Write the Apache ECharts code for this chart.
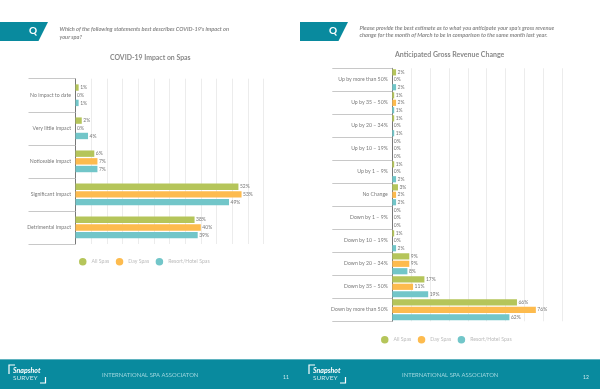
<!DOCTYPE html>
<html>
<head>
<meta charset="utf-8">
<title>Snapshot Survey</title>
<script src="https://cdn.jsdelivr.net/npm/echarts@6/dist/echarts.min.js"></script>
<style>
  html, body { margin: 0; padding: 0; background: #fff; }
  #chart { width: 600px; height: 389px; }
</style>
</head>
<body>
<div id="chart"></div>
<script>
// Datos
const impactCategories = ['No impact to date', 'Very little impact', 'Noticeable impact', 'Significant impact', 'Detrimental impact'];
const impactAll = [1, 2, 6, 52, 38];
const impactDay = [0, 0, 7, 53, 40];
const impactResort = [1, 4, 7, 49, 39];

const revenueCategories = ['Up by more than 50%', 'Up by 35 – 50%', 'Up by 20 – 34%', 'Up by 10 – 19%', 'Up by 1 – 9%', 'No Change',
  'Down by 1 – 9%', 'Down by 10 – 19%', 'Down by 20 – 34%', 'Down by 35 – 50%', 'Down by more than 50%'];
const revenueAll = [2, 1, 1, 0, 1, 3, 0, 1, 9, 17, 66];
const revenueDay = [0, 2, 0, 0, 0, 2, 0, 0, 9, 11, 76];
const revenueResort = [2, 1, 1, 0, 2, 2, 0, 2, 8, 19, 62];

const seriesNames = ['All Spas', 'Day Spas', 'Resort/Hotel Spas'];
const colors = ['#b5c55a', '#fdbb4e', '#72c6c9'];
const teal = '#098a9e';
const font = 'Lato';

function barSeries(name, data, color, axisIndex, barWidth) {
  return {
    name, type: 'bar', data, xAxisIndex: axisIndex, yAxisIndex: axisIndex,
    barWidth, barGap: '20%', itemStyle: { color },
    label: { show: true, position: 'right', distance: 1.5, formatter: '{c}%', fontSize: 5, fontFamily: font, color: '#777' }
  };
}

function valueAxis(gridIndex, max, interval) {
  return {
    type: 'value', gridIndex, min: 0, max, interval,
    axisLabel: { show: false }, axisLine: { show: false }, axisTick: { show: false },
    splitLine: { lineStyle: { color: '#ececec', width: 1 } }
  };
}

function catAxis(gridIndex, data, tickLength) {
  return {
    type: 'category', gridIndex, data, inverse: true,
    axisLine: { show: true, lineStyle: { color: '#777', width: 1 } },
    axisTick: { show: true, alignWithLabel: false, length: tickLength, lineStyle: { color: '#c8c8c8', width: 1 } },
    axisLabel: { interval: 0, fontSize: 5.2, fontFamily: font, color: '#7a7a7a', margin: 4.5 }
  };
}

function legend(left, top) {
  return {
    left, top, data: seriesNames, icon: 'circle', itemWidth: 7.5, itemHeight: 7.5, itemGap: 6.5,
    selectedMode: false, padding: 0,
    textStyle: { fontSize: 5.2, fontFamily: font, color: '#bcbcbc' }
  };
}

// Banda con la Q, la pregunta y el pie de pagina
function pageDecor(x, question, questionTop, pageNumber) {
  return [
    { type: 'polygon', shape: { points: [[x, 22], [x + 48, 22], [x + 38.5, 41], [x, 41]] }, style: { fill: teal } },
    { type: 'text', x: x + 33, y: 31, style: { text: 'Q', fill: '#fff', font: 'bold 10px Lato', align: 'center', verticalAlign: 'middle' } },
    { type: 'text', x: x + 59.5, y: questionTop, style: { text: question, fill: '#8a8a8a', font: 'italic bold 5.6px Lato', lineHeight: 7.2 } },
    { type: 'polyline', shape: { points: [[x + 9, 374], [x + 9, 365], [x + 15, 365]] }, style: { stroke: '#fff', fill: null, lineWidth: 1.2 } },
    { type: 'polyline', shape: { points: [[x + 40, 383], [x + 45.5, 383], [x + 45.5, 377]] }, style: { stroke: '#fff', fill: null, lineWidth: 1.2 } },
    { type: 'text', x: x + 13, y: 367.5, style: { text: 'Snapshot', fill: '#fff', font: 'italic bold 7px Lato' } },
    { type: 'text', x: x + 13, y: 374, style: { text: 'SURVEY', fill: '#cfe9ed', font: '6.5px Lato' } },
    { type: 'text', x: x + 102, y: 372, style: { text: 'INTERNATIONAL SPA ASSOCIATON', fill: '#9fd6de', font: '5.9px Lato' } },
    { type: 'text', x: x + 286, y: 375, style: { text: pageNumber, fill: '#cfe9ed', font: '5px Lato', align: 'center' } }
  ];
}

const chart = echarts.init(document.getElementById('chart'));
chart.setOption({
  backgroundColor: '#fff',
  animation: false,
  title: [
    { text: 'COVID-19 Impact on Spas', left: 105, top: 49.5, textStyle: { fontSize: 6.9, fontWeight: 'bold', fontFamily: font, color: '#888' } },
    { text: 'Anticipated Gross Revenue Change', left: 390, top: 46.5, textStyle: { fontSize: 7, fontWeight: 'bold', fontFamily: font, color: '#888' } }
  ],
  legend: [legend(79, 258), legend(381, 336)],
  grid: [
    { left: 75.5, top: 78.7, width: 188, height: 165.3, containLabel: false },
    { left: 392.3, top: 68.3, width: 170, height: 253, containLabel: false }
  ],
  xAxis: [valueAxis(0, 60, 5), valueAxis(1, 90, 10)],
  yAxis: [catAxis(0, impactCategories, 47), catAxis(1, revenueCategories, 60)],
  series: [
    barSeries(seriesNames[0], impactAll, colors[0], 0, 6.4),
    barSeries(seriesNames[1], impactDay, colors[1], 0, 6.4),
    barSeries(seriesNames[2], impactResort, colors[2], 0, 6.4),
    barSeries(seriesNames[0], revenueAll, colors[0], 1, 6.2),
    barSeries(seriesNames[1], revenueDay, colors[1], 1, 6.2),
    barSeries(seriesNames[2], revenueResort, colors[2], 1, 6.2)
  ],
  graphic: [
    { type: 'rect', shape: { x: 0, y: 359, width: 600, height: 30 }, style: { fill: teal } },
    { type: 'rect', shape: { x: 0, y: 359, width: 600, height: 1 }, style: { fill: '#5fb3c0' } },
    ...pageDecor(0, "Which of the following statements best describes COVID-19's impact on\nyour spa?", 26, '11'),
    ...pageDecor(300, "Please provide the best estimate as to what you anticipate your spa's gross revenue\nchange for the month of March to be in comparison to the same month last year.", 24.5, '12')
  ]
});
</script>
</body>
</html>
